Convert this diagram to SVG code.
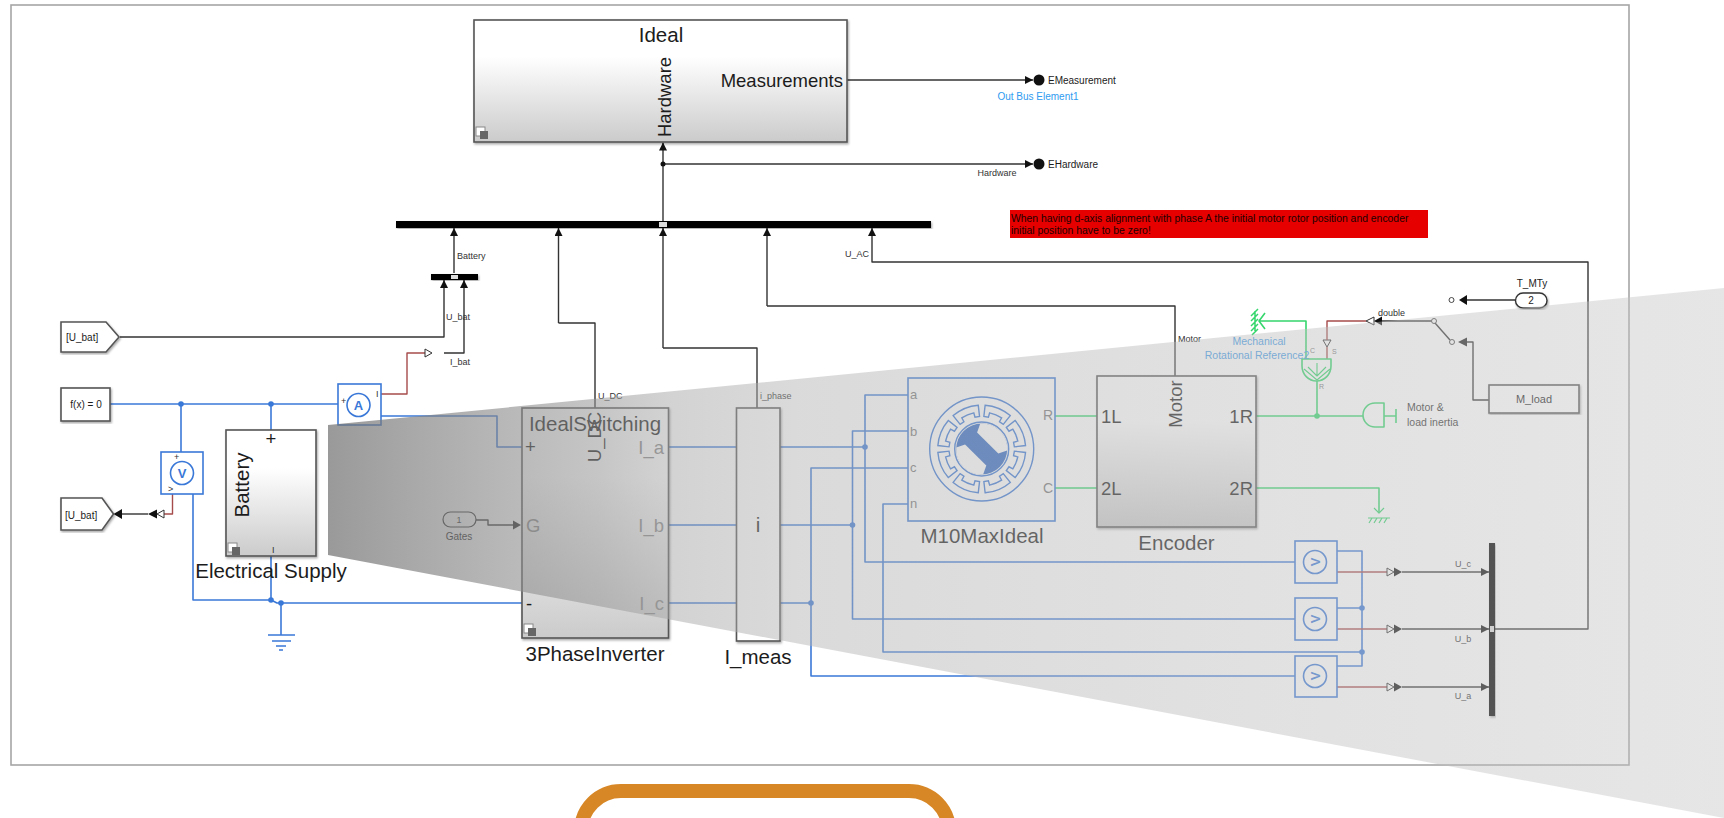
<svg xmlns="http://www.w3.org/2000/svg" width="1724" height="818" viewBox="0 0 1724 818">
<style>
text{font-family:"Liberation Sans",Arial,sans-serif;fill:#1c1c1c}
.big{font-size:18.5px}.lg{font-size:20.5px}.sm{font-size:9px;fill:#333}.md{font-size:10px}.port{font-size:18.5px;fill:#888}
.mid{text-anchor:middle}.end{text-anchor:end}
.w{fill:none;stroke:#333;stroke-width:1.4;stroke-linejoin:round}
.wa{fill:none;stroke:#333;stroke-width:1.4;stroke-linejoin:round;marker-end:url(#arr)}
.b{fill:none;stroke:#3a78d8;stroke-width:1.6;stroke-linejoin:round}
.g{fill:none;stroke:#35d66c;stroke-width:1.6;stroke-linejoin:round}
.r{fill:none;stroke:#a64b4b;stroke-width:1.4;stroke-linejoin:round}
.jb{fill:#3a78d8}.jg{fill:#35d66c}
.box{stroke:#555;stroke-width:1.6;filter:url(#sh)}
.bl{fill:#fff;stroke:#3a78d8;stroke-width:1.6}
.ot{fill:#fff;stroke:#333;stroke-width:1}
.blt{fill:#3a78d8;font-size:13px;font-weight:bold;text-anchor:middle}
.cap{font-size:10.5px;fill:#3f9be8}
.pin{font-size:13px;fill:#777}
.tiny{font-size:7px;fill:#777}
.sw{fill:#fff;stroke:#333;stroke-width:.9}
</style>
<defs>
<linearGradient id="grad" x1="0" y1="0" x2="0" y2="1"><stop offset="0" stop-color="#fff"/><stop offset=".3" stop-color="#fff"/><stop offset="1" stop-color="#cbcbcb"/></linearGradient>
<linearGradient id="wedge" gradientUnits="userSpaceOnUse" x1="328" y1="0" x2="1724" y2="0">
<stop offset="0" stop-color="#747474" stop-opacity=".73"/><stop offset=".195" stop-color="#979797" stop-opacity=".55"/><stop offset=".244" stop-color="#a6a6a6" stop-opacity=".5"/><stop offset=".338" stop-color="#b1b1b1" stop-opacity=".47"/><stop offset=".7" stop-color="#bebebe" stop-opacity=".45"/><stop offset="1" stop-color="#c3c3c3" stop-opacity=".42"/></linearGradient>
<filter id="sh" x="-5%" y="-5%" width="112%" height="112%"><feDropShadow dx="1" dy="1.5" stdDeviation="1" flood-color="#000" flood-opacity=".35"/></filter>
<marker id="arr" markerUnits="userSpaceOnUse" markerWidth="9" markerHeight="9" refX="8" refY="4" orient="auto"><path d="M0 0L8 4L0 8Z" fill="#111"/></marker>
<g id="sub"><rect x="0" y="0" width="9" height="9" fill="#fff" stroke="#888"/><rect x="4" y="4" width="8" height="8" fill="#666"/></g>
<path id="slot" d="M-13.6-41.8A44 44 0 0 1 13.6-41.8L10.5-31L6-32L6.5-36.4A37 37 0 0 0-6.5-36.4L-6-32L-10.5-31Z" fill="none" stroke="#3a78d8" stroke-width="1.4"/>
</defs>
<rect width="1724" height="818" fill="#fff"/>
<rect id="frame" x="11" y="5" width="1618" height="760" fill="none" stroke="#a6a6a6" stroke-width="1.6"/>

<g id="connectors">
<path class="wa" d="M847 80H1033"/>
<path class="wa" d="M663 224V142.500"/>
<path class="wa" d="M663 164H1033"/>
<circle cx="663" cy="164" r="2.500" fill="#111"/>
<path class="wa" d="M454 273V228"/>
<path class="wa" d="M558.500 323V228"/>
<path class="w" d="M595 408V323H558.500"/>
<path class="wa" d="M663 348V228"/>
<path class="w" d="M757 408V348H663"/>
<path class="wa" d="M767 306V228"/>
<path class="w" d="M1175 376V306H767"/>
<path class="wa" d="M1492 629H1588V262H872V228"/>
<path class="wa" d="M120 337H444V280"/>
<path class="wa" d="M444 353H464V280"/>
<path class="r" d="M381 394H407V353H425"/>
<path class="ot" d="M425 349L432 353L425 357Z"/>
<path class="b" d="M110 404H338"/>
<path class="b" d="M181 404V462"/>
<path class="b" d="M271 404V430"/>
<path class="b" d="M371 405H375V416H497V447H522"/>
<path class="b" d="M182 485V487H193V600H271V556"/>
<path class="b" d="M271 600L277 603H522"/>
<path class="b" d="M281 603V635"/>
<path class="b" d="M268 635H295M272 641H291M276 646H286M279 650H283"/>
<circle class="jb" cx="181" cy="404" r="2.800"/><circle class="jb" cx="271" cy="404" r="2.800"/><circle class="jb" cx="271" cy="600" r="2.800"/><circle class="jb" cx="281" cy="603" r="2.800"/>
<path class="r" d="M172.500 487V514H164"/>
<path class="ot" d="M164 510L157 514L164 518Z"/>
<path d="M157 509.500L148 514L157 518.500Z" fill="#111"/>
<path class="w" d="M148 514H122"/>
<path d="M122 509L113.500 514L122 519Z" fill="#111"/>
<path class="w" d="M476 520H488V525H513"/>
<path d="M513 520.500L521 525L513 529.500Z" fill="#222"/>
<path class="b" d="M668 447H736M780 447H865M668 525H736M780 525H852.500M668 603H736M780 603H811"/>
<path class="b" d="M908 395H865V562H1304"/>
<path class="b" d="M908 431H852.500V619H1304"/>
<path class="b" d="M908 468H811V676H1304"/>
<path class="b" d="M908 504H883V652H1362"/>
<circle class="jb" cx="865" cy="447" r="2.800"/><circle class="jb" cx="852.500" cy="525" r="2.800"/><circle class="jb" cx="811" cy="603" r="2.800"/>
<path class="b" d="M1327 562H1332V551H1362V666H1332V676H1327"/>
<path class="b" d="M1327 619H1332V608H1362"/>
<circle class="jb" cx="1362" cy="608" r="2.800"/><circle class="jb" cx="1362" cy="652" r="2.800"/>
<g id="sig-c"><path class="r" d="M1337 572H1387"/><path class="ot" d="M1387 568L1394 572L1387 576Z"/><path d="M1394 567.500L1402 572L1394 576.500Z" fill="#111"/><path class="wa" d="M1402 572H1489"/></g>
<g id="sig-b"><path class="r" d="M1337 629H1387"/><path class="ot" d="M1387 625L1394 629L1387 633Z"/><path d="M1394 624.500L1402 629L1394 633.500Z" fill="#111"/><path class="wa" d="M1402 629H1489"/></g>
<g id="sig-a"><path class="r" d="M1337 687H1387"/><path class="ot" d="M1387 683L1394 687L1387 691Z"/><path d="M1394 682.500L1402 687L1394 691.500Z" fill="#111"/><path class="wa" d="M1402 687H1489"/></g>
<path class="g" d="M1055 416H1097M1256 416H1363M1055 488H1097"/>
<path class="g" d="M1256 488H1379V513"/>
<path class="g" d="M1317 381V416"/>
<circle class="jg" cx="1317" cy="416" r="2.800"/>
<path class="g" d="M1306 359V321H1268"/>
<path class="r" d="M1327 359V347"/><path class="ot" d="M1323 340L1331 340L1327 347Z"/>
<path class="r" d="M1327 340V321H1366"/>
<path class="ot" d="M1374 317L1366 321L1374 325Z"/>
<path d="M1382 316.500L1374 321L1382 325.500Z" fill="#111"/>
<path class="w" d="M1382 321H1431.500"/>
<path class="w" d="M1435 323L1450 340"/>
<path class="w" d="M1467 342H1473V400H1489"/>
<path d="M1467 337.500L1458 342L1467 346.500Z" fill="#222"/>
<path class="w" d="M1515 300H1467"/>
<path d="M1467 295L1459 300L1467 305Z" fill="#111"/>
</g>

<g id="Ideal">
<rect class="box" x="474" y="20" width="373" height="122" fill="url(#grad)"/>
<use href="#sub" x="476" y="127"/>
<text class="lg mid" x="661" y="42">Ideal</text>
<text class="big mid" transform="translate(671 97) rotate(-90)">Hardware</text>
<text class="big end" x="843" y="87">Measurements</text>
</g>
<g id="EMeasurement"><circle cx="1039" cy="80" r="5.500" fill="#111"/><text class="md" x="1048" y="84">EMeasurement</text><text class="md mid" x="1038" y="100" style="fill:#2f9bf0">Out Bus Element1</text></g>
<g id="EHardware"><circle cx="1039" cy="164" r="5.500" fill="#111"/><text class="md" x="1048" y="168">EHardware</text><text class="sm mid" x="997" y="176">Hardware</text></g>
<g id="MainBus"><rect x="396" y="221" width="535" height="7" fill="#000" filter="url(#sh)"/><rect x="659" y="222" width="8" height="5" fill="#ddd"/></g>
<g id="BatteryBus"><rect x="431" y="274" width="47" height="6" fill="#000" filter="url(#sh)"/><rect x="451" y="275" width="7" height="4" fill="#ddd"/></g>
<g id="Note"><rect x="1010" y="210" width="418" height="28" fill="#e60000"/><text x="1011" y="222" style="font-size:10.4px;fill:#200">When having d-axis alignment with phase A the initial motor rotor position and encoder</text><text x="1011" y="234" style="font-size:10.4px;fill:#200">initial position have to be zero!</text></g>
<g id="labels">
<text class="sm" x="457" y="259">Battery</text>
<text class="sm" x="446" y="320">U_bat</text>
<text class="sm" x="450" y="365">I_bat</text>
<text class="sm end" x="869" y="257">U_AC</text>
<text class="sm" x="598" y="399">U_DC</text>
<text class="sm" x="760" y="399">i_phase</text>
<text class="sm" x="1178" y="342">Motor</text>
<text class="sm" x="1378" y="316">double</text>
<text class="sm mid" x="1463" y="567">U_c</text>
<text class="sm mid" x="1463" y="642">U_b</text>
<text class="sm mid" x="1463" y="699">U_a</text>
</g>
<g id="GotoTop"><path class="box" d="M61 322H106L119 337L106 352H61Z" fill="#fff"/><text class="md" x="66" y="341">[U_bat]</text></g>
<g id="GotoBottom"><path class="box" d="M61 498H102L113.500 514L102 530H61Z" fill="#fff"/><text class="md" x="65" y="519">[U_bat]</text></g>
<g id="Solver"><rect class="box" x="61" y="388" width="49" height="33" fill="#fff"/><text class="md mid" x="86" y="408">f(x) = 0</text></g>
<g id="Ammeter"><rect class="bl" x="338" y="384" width="43" height="41"/><circle class="bl" cx="358.500" cy="405" r="11.500"/><text class="blt" x="358.500" y="410">A</text><text class="sm" x="341" y="404">+</text><text class="sm" x="376" y="397">I</text></g>
<g id="Voltmeter"><rect class="bl" x="161" y="452" width="42" height="42"/><circle class="bl" cx="182" cy="473" r="11.500"/><text class="blt" x="182" y="478">V</text><text class="sm" x="174" y="460">+</text><text class="sm" x="168" y="492">&gt;</text></g>
<g id="Battery"><rect class="box" x="226" y="430" width="90" height="126" fill="url(#grad)"/><use href="#sub" x="228" y="543"/><text class="lg mid" transform="translate(249 485) rotate(-90)">Battery</text><text class="big mid" x="271" y="445">+</text><text class="sm" x="272" y="553">I</text></g>
<text id="lbl-supply" class="lg mid" x="271" y="578">Electrical Supply</text>
<g id="Gates"><rect x="443" y="512" width="33" height="15" rx="7.500" fill="#fff" stroke="#333" stroke-width="1.200"/><text class="sm mid" x="459" y="523">1</text><text class="md mid" x="459" y="540">Gates</text></g>
<g id="Inverter"><rect class="box" x="522" y="408" width="146.500" height="230" fill="url(#grad)"/><use href="#sub" x="524" y="624"/>
<text class="lg mid" x="595" y="431">IdealSwitching</text>
<text class="big mid" transform="translate(601 437) rotate(-90)">U_DC</text>
<text class="big" x="525" y="453">+</text><text class="big" x="526" y="610">-</text><text class="port" x="526" y="532">G</text>
<text class="port end" x="664" y="454">I_a</text><text class="port end" x="664" y="532">I_b</text><text class="port end" x="664" y="610">I_c</text></g>
<text id="lbl-inverter" class="lg mid" x="595" y="661">3PhaseInverter</text>
<g id="I_meas"><rect class="box" x="736.500" y="408" width="43.500" height="233" fill="#fff"/><text class="lg mid" x="758" y="532">i</text></g>
<text id="lbl-imeas" class="lg mid" x="758" y="664">I_meas</text>
<g id="M10MaxIdeal"><rect class="bl" x="908" y="378" width="147" height="143"/>
<g transform="translate(981.700 449)"><circle r="52" fill="none" stroke="#3a78d8" stroke-width="1.400"/>
<use href="#slot" transform="rotate(22.500)"/><use href="#slot" transform="rotate(67.500)"/><use href="#slot" transform="rotate(112.500)"/><use href="#slot" transform="rotate(157.500)"/><use href="#slot" transform="rotate(202.500)"/><use href="#slot" transform="rotate(247.500)"/><use href="#slot" transform="rotate(292.500)"/><use href="#slot" transform="rotate(337.500)"/>
<circle r="27" fill="none" stroke="#3a78d8" stroke-width="1.400"/>
<circle r="25.500" fill="#2f68c4"/>
<g transform="rotate(45)"><path d="M-15-8.500H15L19-17A25 25 0 0 0-19-17Z" fill="#fff"/><path d="M-15 8.500H15L19 17A25 25 0 0 1-19 17Z" fill="#fff"/></g></g>
<text class="pin" x="910" y="399">a</text><text class="pin" x="910" y="436">b</text><text class="pin" x="910" y="472">c</text><text class="pin" x="910" y="508">n</text>
<text class="pin end" x="1053" y="420" style="font-size:14px">R</text><text class="pin end" x="1053" y="493" style="font-size:14px">C</text></g>
<text id="lbl-m10" class="lg mid" x="982" y="543">M10MaxIdeal</text>
<g id="Encoder"><rect class="box" x="1097" y="376" width="159" height="151" fill="url(#grad)"/>
<text class="big mid" transform="translate(1182 404) rotate(-90)">Motor</text>
<text class="big" x="1101" y="423">1L</text><text class="big" x="1101" y="495">2L</text><text class="big end" x="1253" y="423">1R</text><text class="big end" x="1253" y="495">2R</text></g>
<text id="lbl-enc" class="lg mid" x="1176.500" y="550">Encoder</text>
<g id="Inertia"><path class="g" d="M1384 403H1375A12 12 0 0 0 1375 427H1384ZM1384 416H1396M1396 409V423"/><text class="cap" x="1407" y="411" style="fill:#333">Motor &amp;</text><text class="cap" x="1407" y="426" style="fill:#333">load inertia</text></g>
<g id="Torque"><path class="g" d="M1302 359H1331V366A14.500 15 0 0 1 1302 366Z"/><path class="g" d="M1317 363V376M1308 367L1317 376L1326 367M1304 369L1317 380L1330 369" style="stroke-width:1.100"/><text class="tiny" x="1310" y="353">C</text><text class="tiny" x="1332" y="354">S</text><text class="tiny" x="1319" y="389">R</text></g>
<g id="MechRef"><path class="g" d="M1265 313L1259 321L1265 329M1268 321H1259"/><path d="M1255 311V331M1251 316L1258 309M1251 321L1258 314M1251 326L1258 319M1251 331L1258 324M1252 335L1258 329" fill="none" stroke="#35d66c" stroke-width="1.500"/><text class="cap mid" x="1259" y="345">Mechanical</text><text class="cap mid" x="1257" y="359">Rotational Reference2</text></g>
<g id="EncGround"><path class="g" d="M1374 508L1379 513L1384 508M1368 518H1390M1369 523L1372 518M1374 523L1377 518M1379 523L1382 518M1384 523L1387 518" style="stroke-width:1.200"/></g>
<g id="Switch"><circle class="sw" cx="1434" cy="321" r="2.500"/><circle class="sw" cx="1452" cy="342" r="2.500"/><circle class="sw" cx="1451.500" cy="300" r="2.500"/></g>
<g id="T_MTy"><rect x="1515.500" y="293" width="31.500" height="15" rx="7.500" fill="#fff" stroke="#333" stroke-width="1.400" filter="url(#sh)"/><text class="md mid" x="1531" y="304">2</text><text class="md mid" x="1532" y="287">T_MTy</text></g>
<g id="M_load"><rect class="box" x="1489" y="385" width="90" height="28" fill="#fff"/><text class="md mid" x="1534" y="403" style="font-size:11px">M_load</text></g>
<g id="V_c"><rect class="bl" x="1295" y="541" width="42" height="42"/><circle class="bl" cx="1315" cy="562" r="11.500"/><text class="blt" transform="translate(1320 562) rotate(-90)">V</text></g>
<g id="V_b"><rect class="bl" x="1295" y="598" width="42" height="42"/><circle class="bl" cx="1315" cy="619" r="11.500"/><text class="blt" transform="translate(1320 619) rotate(-90)">V</text></g>
<g id="V_a"><rect class="bl" x="1295" y="656" width="42" height="41"/><circle class="bl" cx="1315" cy="676" r="11.500"/><text class="blt" transform="translate(1320 676) rotate(-90)">V</text></g>
<g id="PhaseBus"><rect x="1489" y="543" width="6" height="173" fill="#000" filter="url(#sh)"/><rect x="1490" y="626" width="4" height="6" fill="#ddd"/></g>

<polygon id="overlay" points="328,425 1724,288 1724,818 328,555" fill="url(#wedge)"/>
<rect id="callout" x="581" y="791" width="368" height="120" rx="40" fill="#fff" stroke="#d88726" stroke-width="14"/>
</svg>
